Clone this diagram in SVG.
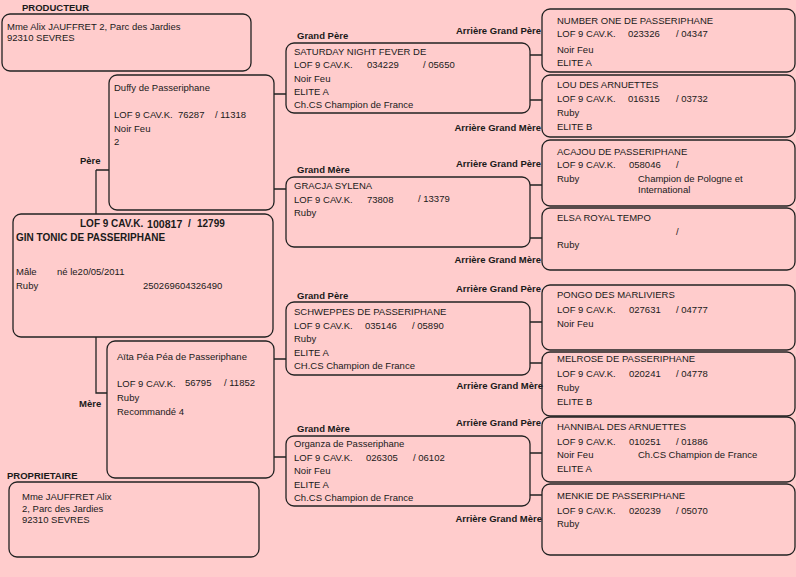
<svg xmlns="http://www.w3.org/2000/svg" width="796" height="577" viewBox="0 0 796 577">
<style>
text{font-family:"Liberation Sans",Arial,sans-serif;font-size:9.5px;fill:#1a1a1a}
.b{font-weight:bold}
.r{text-anchor:end}
.box{fill:none;stroke:#222;stroke-width:1.3}
.ln{fill:none;stroke:#222;stroke-width:1.3}
</style>
<rect x="0" y="0" width="796" height="577" fill="#FFCCCC"/>

<g id="connectors">
<path class="ln" d="M96,170 H109 M96,170 V214 M96,337 V393 H107"/>
<path class="ln" d="M274,94 H286 M274,189 H286"/>
<path class="ln" d="M274,359 H286 M274,457 H286"/>
<path class="ln" d="M530,55 H542 M530,100 H542 M530,185 H542 M530,238 H542"/>
<path class="ln" d="M530,322 H542 M530,363 H542 M530,453 H542 M530,495 H542"/>
</g>

<g id="producteur">
<text class="b" x="22" y="11">PRODUCTEUR</text>
<rect class="box" x="2" y="14" width="249" height="57" rx="8"/>
<text x="7" y="29.5">Mme Alix JAUFFRET 2, Parc des Jardies</text>
<text x="7" y="40.5">92310 SEVRES</text>
</g>

<g id="proprietaire">
<text class="b" x="7" y="479">PROPRIETAIRE</text>
<rect class="box" x="9" y="482" width="250" height="75" rx="8"/>
<text x="22" y="500">Mme JAUFFRET Alix</text>
<text x="22" y="511.5">2, Parc des Jardies</text>
<text x="22" y="523">92310 SEVRES</text>
</g>

<g id="sujet">
<rect class="box" x="13" y="214" width="260" height="123" rx="8"/>
<text class="b" x="80" y="226.7" style="font-size:10px">LOF 9 CAV.K.</text>
<text class="b" x="147" y="228" style="font-size:10.6px">100817</text>
<text class="b" x="188" y="227" style="font-size:10px">/</text>
<text class="b" x="197" y="227" style="font-size:10px">12799</text>
<text class="b" x="16" y="241" style="font-size:10px">GIN TONIC DE PASSERIPHANE</text>
<text x="16" y="275">Mâle</text>
<text x="57" y="275">né le20/05/2011</text>
<text x="16" y="289">Ruby</text>
<text x="143" y="289">250269604326490</text>
</g>

<g id="pere">
<text class="b" x="80" y="164">Père</text>
<rect class="box" x="109" y="75" width="165" height="135" rx="8"/>
<text x="114" y="91">Duffy de Passeriphane</text>
<text x="114" y="118">LOF 9 CAV.K.</text>
<text x="178" y="118">76287</text>
<text x="215" y="118">/ 11318</text>
<text x="114" y="132">Noir Feu</text>
<text x="114" y="145">2</text>
</g>

<g id="mere">
<text class="b" x="79" y="407">Mère</text>
<rect class="box" x="107" y="341" width="167" height="137" rx="8"/>
<text x="117" y="360">Aïta Péa Péa de Passeriphane</text>
<text x="117" y="387">LOF 9 CAV.K.</text>
<text x="185" y="385.7">56795</text>
<text x="224" y="386">/ 11852</text>
<text x="117" y="401">Ruby</text>
<text x="117" y="415">Recommandé 4</text>
</g>

<g id="gp1">
<text class="b" x="297" y="39">Grand Père</text>
<rect class="box" x="286" y="43" width="244" height="70" rx="8"/>
<text x="294" y="54.5">SATURDAY NIGHT FEVER DE</text>
<text x="294" y="68">LOF 9 CAV.K.</text>
<text x="367" y="68">034229</text>
<text x="423" y="68">/ 05650</text>
<text x="294" y="81.5">Noir Feu</text>
<text x="294" y="95">ELITE A</text>
<text x="294" y="108.3">Ch.CS Champion de France</text>
</g>

<g id="gm1">
<text class="b" x="297" y="172.5">Grand Mère</text>
<rect class="box" x="286" y="177" width="244" height="70" rx="8"/>
<text x="294" y="189.3">GRACJA SYLENA</text>
<text x="294" y="202.5">LOF 9 CAV.K.</text>
<text x="367" y="202.5">73808</text>
<text x="418" y="202">/ 13379</text>
<text x="294" y="216">Ruby</text>
</g>

<g id="gp2">
<text class="b" x="297" y="298.5">Grand Père</text>
<rect class="box" x="286" y="302" width="244" height="73" rx="8"/>
<text x="294" y="315">SCHWEPPES DE PASSERIPHANE</text>
<text x="294" y="328.5">LOF 9 CAV.K.</text>
<text x="365" y="328.5">035146</text>
<text x="412" y="328.5">/ 05890</text>
<text x="294" y="342">Ruby</text>
<text x="294" y="355.5">ELITE A</text>
<text x="294" y="369">CH.CS Champion de France</text>
</g>

<g id="gm2">
<text class="b" x="297" y="431.5">Grand Mère</text>
<rect class="box" x="286" y="436" width="244" height="70" rx="8"/>
<text x="294" y="447">Organza de Passeriphane</text>
<text x="294" y="460.5">LOF 9 CAV.K.</text>
<text x="366" y="460.5">026305</text>
<text x="413" y="460.5">/ 06102</text>
<text x="294" y="474">Noir Feu</text>
<text x="294" y="487.5">ELITE A</text>
<text x="294" y="501">Ch.CS Champion de France</text>
</g>

<g id="agp1">
<text class="b r" x="541" y="34">Arrière Grand Père</text>
<rect class="box" x="542" y="9" width="253" height="63" rx="8"/>
<text x="557" y="24">NUMBER ONE DE PASSERIPHANE</text>
<text x="557" y="36.7">LOF 9 CAV.K.</text>
<text x="628" y="36.7">023326</text>
<text x="676" y="36.7">/ 04347</text>
<text x="557" y="53">Noir Feu</text>
<text x="557" y="65.5">ELITE A</text>
</g>

<g id="agm1">
<text class="b r" x="541" y="130.7">Arrière Grand Mère</text>
<rect class="box" x="542" y="75" width="253" height="62" rx="8"/>
<text x="557" y="88.3">LOU DES ARNUETTES</text>
<text x="557" y="102.3">LOF 9 CAV.K.</text>
<text x="628" y="102.3">016315</text>
<text x="676" y="102.3">/ 03732</text>
<text x="557" y="116">Ruby</text>
<text x="557" y="129.7">ELITE B</text>
</g>

<g id="agp2">
<text class="b r" x="541" y="166.7">Arrière Grand Père</text>
<rect class="box" x="542" y="140" width="253" height="66" rx="8"/>
<text x="557" y="154.7">ACAJOU DE PASSERIPHANE</text>
<text x="557" y="168.3">LOF 9 CAV.K.</text>
<text x="629" y="168.3">058046</text>
<text x="676" y="168.3">/</text>
<text x="557" y="181.7">Ruby</text>
<text x="638" y="181.7">Champion de Pologne et</text>
<text x="638" y="193">International</text>
</g>

<g id="agm2">
<text class="b r" x="541" y="263">Arrière Grand Mère</text>
<rect class="box" x="542" y="208" width="253" height="62" rx="8"/>
<text x="557" y="221.3">ELSA ROYAL TEMPO</text>
<text x="676" y="235">/</text>
<text x="557" y="248.3">Ruby</text>
</g>

<g id="agp3">
<text class="b r" x="541" y="292.3">Arrière Grand Père</text>
<rect class="box" x="542" y="285" width="253" height="65" rx="8"/>
<text x="557" y="298.3">PONGO DES MARLIVIERS</text>
<text x="557" y="313">LOF 9 CAV.K.</text>
<text x="629" y="313">027631</text>
<text x="676" y="313">/ 04777</text>
<text x="557" y="326.7">Noir Feu</text>
</g>

<g id="agm3">
<text class="b r" x="543" y="389">Arrière Grand Mère</text>
<rect class="box" x="542" y="352" width="253" height="64" rx="8"/>
<text x="557" y="362.3">MELROSE DE PASSERIPHANE</text>
<text x="557" y="376.7">LOF 9 CAV.K.</text>
<text x="629" y="376.7">020241</text>
<text x="676" y="376.7">/ 04778</text>
<text x="557" y="390.7">Ruby</text>
<text x="557" y="404.7">ELITE B</text>
</g>

<g id="agp4">
<text class="b r" x="541" y="425.7">Arrière Grand Père</text>
<rect class="box" x="542" y="417" width="253" height="65" rx="8"/>
<text x="557" y="430">HANNIBAL DES ARNUETTES</text>
<text x="557" y="444.7">LOF 9 CAV.K.</text>
<text x="629" y="444.7">010251</text>
<text x="676" y="444.7">/ 01886</text>
<text x="557" y="458">Noir Feu</text>
<text x="638" y="458">Ch.CS Champion de France</text>
<text x="557" y="472.3">ELITE A</text>
</g>

<g id="agm4">
<text class="b r" x="542" y="522.3">Arrière Grand Mère</text>
<rect class="box" x="542" y="484" width="253" height="71" rx="8"/>
<text x="557" y="499">MENKIE DE PASSERIPHANE</text>
<text x="557" y="514">LOF 9 CAV.K.</text>
<text x="629" y="514">020239</text>
<text x="676" y="514">/ 05070</text>
<text x="557" y="527.3">Ruby</text>
</g>
</svg>
